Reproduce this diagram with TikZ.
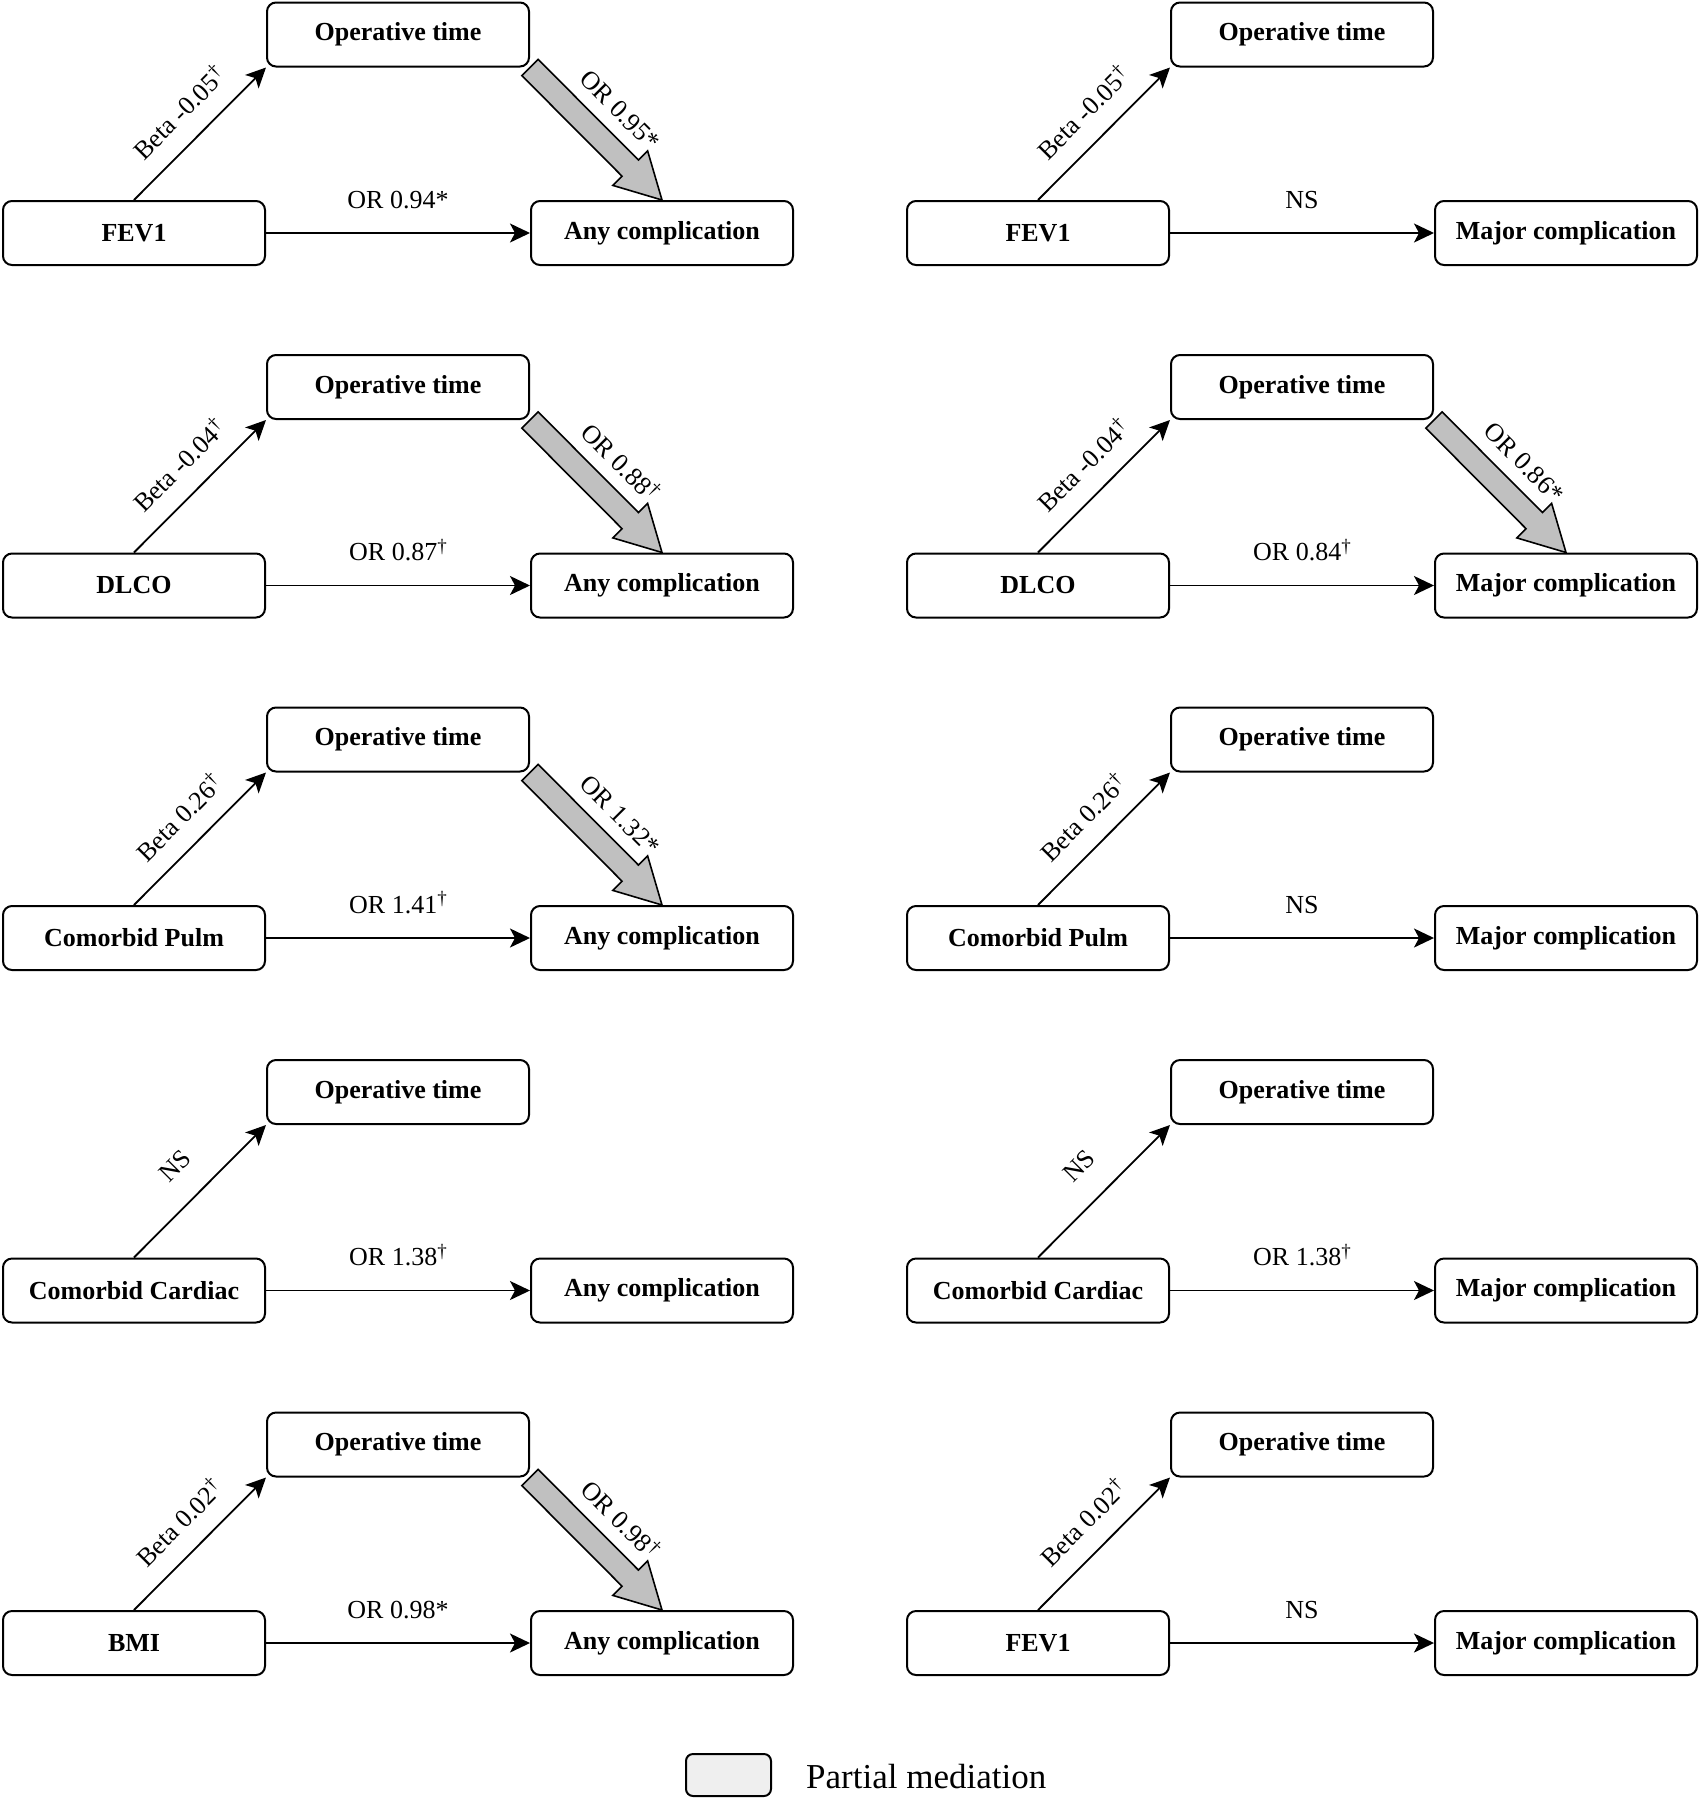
\documentclass[tikz,border=0pt]{standalone}
\usepackage{fontspec}
\setmainfont{Liberation Serif}
\usetikzlibrary{arrows.meta,calc}
\definecolor{medgray}{RGB}{192,192,192}
\definecolor{legendgray}{RGB}{239,239,239}
\tikzset{
  box/.style={draw, line width=2pt, rounded corners=9pt, minimum width=262pt, minimum height=64pt, inner sep=0pt, font=\fontsize{26}{30}\selectfont\bfseries},
  conn/.style={line width=1.8pt, -{Stealth[length=20pt,width=19pt,inset=5pt]}},
  lab/.style={font=\fontsize{26}{30}\selectfont, inner sep=0pt, anchor=base},
  medfill/.style={fill=medgray, draw=black, line width=1.6pt, line join=miter},
}
\newcommand\dg{\raisebox{0.32em}{\fontsize{19}{19}\selectfont †}}
\newcommand\panel[9]{%
  \node[box] (#1p) at (#2+134, #3+233) {#4};
  \node[box] (#1m) at (#2+398, #3+34.5) {Operative time};
  \node[box] (#1o) at (#2+662, #3+233) {#5};
  \draw[conn] (#1p.north) -- node[lab, sloped, midway, yshift=#7] {#6} (#1m.south west);
  \draw[conn] (#1p.east) -- node[lab, midway, yshift=25pt] {#8} (#1o.west);
  \if\relax\detokenize{#9}\relax\else
    \coordinate (#1a) at (#1m.south east);
    \coordinate (#1b) at (#1o.north);
    \coordinate (#1h) at ($(#1b)!45pt!(#1a)$);
    \draw[medfill] ($(#1a)!11.5pt!90:(#1b)$) -- ($(#1h)!11.5pt!90:(#1b)$) -- ($(#1h)!24.5pt!90:(#1b)$) -- (#1b) -- ($(#1h)!24.5pt!-90:(#1b)$) -- ($(#1h)!11.5pt!-90:(#1b)$) -- ($(#1a)!11.5pt!-90:(#1b)$) -- cycle;
    \path (#1a) -- node[lab, sloped, midway, yshift=25pt] {#9} (#1b);
  \fi
}
\begin{document}
\begin{tikzpicture}[x=1pt, y=-1pt]
\useasboundingbox (0,0) rectangle (1701,1800);
\panel{aL}{0}{0}{FEV1}{Any complication}{Beta -0.05\dg}{20pt}{OR 0.94*}{OR 0.95*}
\panel{aR}{904}{0}{FEV1}{Major complication}{Beta -0.05\dg}{20pt}{NS}{}
\panel{bL}{0}{352.5}{DLCO}{Any complication}{Beta -0.04\dg}{20pt}{OR 0.87\dg}{OR 0.88\dg}
\panel{bR}{904}{352.5}{DLCO}{Major complication}{Beta -0.04\dg}{20pt}{OR 0.84\dg}{OR 0.86*}
\panel{cL}{0}{705}{Comorbid Pulm}{Any complication}{Beta 0.26\dg}{20pt}{OR 1.41\dg}{OR 1.32*}
\panel{cR}{904}{705}{Comorbid Pulm}{Major complication}{Beta 0.26\dg}{20pt}{NS}{}
\panel{dL}{0}{1057.5}{Comorbid Cardiac}{Any complication}{NS}{27pt}{OR 1.38\dg}{}
\panel{dR}{904}{1057.5}{Comorbid Cardiac}{Major complication}{NS}{27pt}{OR 1.38\dg}{}
\panel{eL}{0}{1410}{BMI}{Any complication}{Beta 0.02\dg}{20pt}{OR 0.98*}{OR 0.98\dg}
\panel{eR}{904}{1410}{FEV1}{Major complication}{Beta 0.02\dg}{20pt}{NS}{}
\node[draw, line width=2pt, rounded corners=7pt, fill=legendgray, minimum width=85pt, minimum height=42pt, inner sep=0pt] (legbox) at (728.5,1775) {};
\node[font=\fontsize{35}{40}\selectfont, anchor=west, inner sep=0pt] (legtext) at (806,1777) {Partial mediation};
\end{tikzpicture}
\end{document}
